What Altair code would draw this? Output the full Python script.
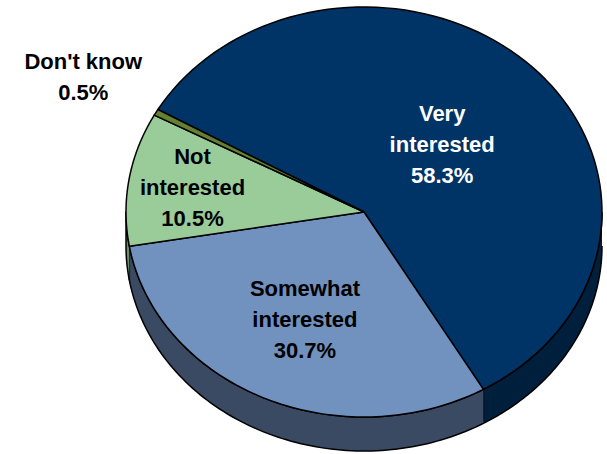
import altair as alt
import pandas as pd

# ---- data ----
categories = ["Very interested", "Somewhat interested", "Not interested", "Don't know"]
shares = [58.3, 30.7, 10.5, 0.5]

# ---- style / layout ----
top_colors = ["#003366", "#7191BF", "#99CC99", "#668033"]
side_colors = ["#001F3D", "#3A4A63", "#6A8F6A", "#3F5020"]
text_colors = ["#FFFFFF", "#000000", "#000000", "#000000"]
label_r = [0.465, 0.584, 0.73, 1.35]

W, H = 607, 454
CX, CY, RX, RY, DEPTH = 364, 212, 238, 205, 34
START = -60
N = 90
LINE_H = 31

df = pd.DataFrame({"cat": categories, "share": shares,
                   "idx": list(range(len(categories))), "lr": label_r})

base = (
    alt.Chart(df)
    .transform_joinaggregate(total="sum(share)")
    .transform_window(cum="sum(share)", sort=[alt.SortField("idx")], frame=[None, 0])
    .transform_calculate(
        a0=f"{START} + (datum.cum - datum.share) / datum.total * 360",
        a1=f"{START} + datum.cum / datum.total * 360",
    )
)

xs = alt.X("px:Q", scale=alt.Scale(domain=[0, W]), axis=None)
ys = alt.Y("py:Q", scale=alt.Scale(domain=[0, H], reverse=True), axis=None)

side = (
    base.transform_calculate(lo="max(datum.a0, 90)", hi="min(datum.a1, 270)")
    .transform_filter("datum.hi > datum.lo")
    .transform_calculate(t=f"sequence(0, {2 * (N + 1)})")
    .transform_flatten(["t"])
    .transform_calculate(
        k=f"datum.t <= {N} ? datum.t : {2 * N + 1} - datum.t",
    )
    .transform_calculate(
        ang=f"(datum.lo + (datum.hi - datum.lo) * datum.k / {N}) * PI / 180",
    )
    .transform_calculate(
        px=f"{CX} + {RX} * sin(datum.ang)",
        py=f"{CY} - {RY} * cos(datum.ang) + (datum.t > {N} ? {DEPTH} : 0)",
    )
    .mark_line(filled=True, stroke="black", strokeWidth=1.5, strokeJoin="round")
    .encode(
        x=xs, y=ys,
        color=alt.Color("cat:N", scale=alt.Scale(domain=categories, range=side_colors), legend=None),
        order=alt.Order("t:Q"),
    )
)

top = (
    base.transform_calculate(t=f"sequence(-1, {N + 2})")
    .transform_flatten(["t"])
    .transform_calculate(
        ang=f"(datum.a0 + (datum.a1 - datum.a0) * clamp(datum.t, 0, {N}) / {N}) * PI / 180",
    )
    .transform_calculate(
        px=f"(datum.t < 0 || datum.t > {N}) ? {CX} : {CX} + {RX} * sin(datum.ang)",
        py=f"(datum.t < 0 || datum.t > {N}) ? {CY} : {CY} - {RY} * cos(datum.ang)",
    )
    .mark_line(filled=True, stroke="black", strokeWidth=1.5, strokeJoin="round")
    .encode(
        x=xs, y=ys,
        color=alt.Color("cat:N", scale=alt.Scale(domain=categories, range=top_colors), legend=None),
        order=alt.Order("t:Q"),
    )
)

labels = (
    base.transform_calculate(
        mid="((datum.a0 + datum.a1) / 2) * PI / 180",
        lab="replace(datum.cat, ' interested', '|interested') + '|' + format(datum.share, '.1f') + '%'",
    )
    .transform_calculate(nl="length(split(datum.lab, '|'))")
    .transform_calculate(
        px=f"{CX} + {RX} * datum.lr * sin(datum.mid)",
        py=f"{CY} - {RY} * datum.lr * cos(datum.mid) - (datum.nl - 1) / 2 * {LINE_H}",
    )
    .mark_text(font="Liberation Sans", fontWeight="bold", fontSize=22,
               lineHeight=LINE_H, lineBreak="|", align="center", baseline="middle")
    .encode(
        x=xs, y=ys,
        text="lab:N",
        color=alt.Color("cat:N", scale=alt.Scale(domain=categories, range=text_colors), legend=None),
    )
)

chart = (
    alt.layer(side, top, labels)
    .resolve_scale(color="independent")
    .properties(width=W, height=H, padding=0, autosize=alt.AutoSizeParams(type="none"),
                background="white")
    .configure_view(stroke=None)
)

chart.save("out.html", embed_options={"renderer": "svg", "actions": False})
